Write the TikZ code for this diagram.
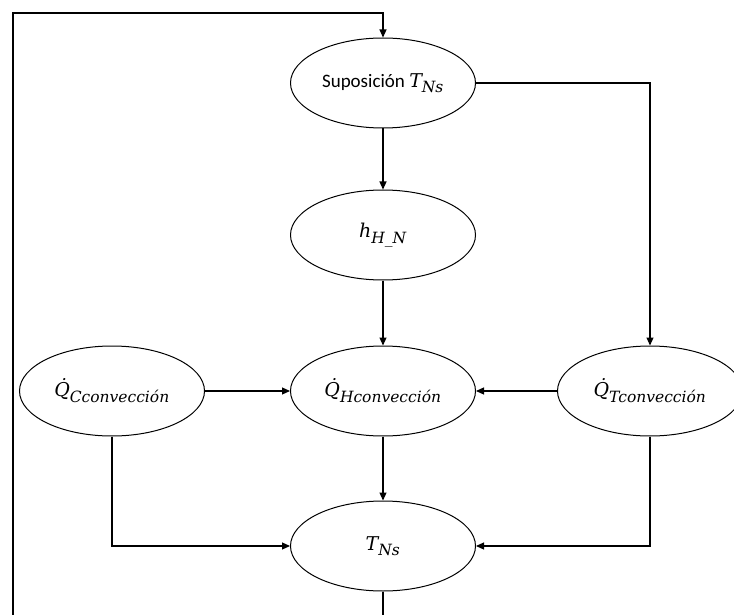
\documentclass[tikz,border=0pt]{standalone}
\usepackage{amsmath}
\usepackage{fontspec}
\setmainfont{Carlito}
\newfontfamily\mathserif{DejaVu Serif}
\usetikzlibrary{shapes.geometric,arrows.meta}

% larger subscripts for the variable names
\DeclareMathSizes{19}{19}{15.5}{12}

% italic serif letters for the variable names
\newcommand\mv[1]{\text{\mathserif\itshape #1}}
\newcommand\qdot{\text{\mathserif\itshape\.{Q}}}

\tikzset{
  blob/.style={draw, ellipse, line width=1pt, minimum width=185pt,
    minimum height=90pt, inner sep=0pt, font=\fontsize{19}{23}\selectfont},
  link/.style={line width=1.1pt, -{Triangle[length=8pt,width=7pt]}},
}

\begin{document}
\begin{tikzpicture}[x=1pt, y=-1pt]
  \useasboundingbox (0,0) rectangle (734,615);
  \clip (0,0) rectangle (734,615);

  \node[blob] (sup) at (383,83) {Suposición $\mv{T}_{\mv{Ns}}$};
  \node[blob] (hhn) at (383,235) {$\mv{h}_{\mv{H\_N}}$};
  \node[blob] (qh)  at (383,391) {$\qdot_{\mv{Hconvección}}$};
  \node[blob] (qc)  at (112,391) {$\qdot_{\mv{Cconvección}}$};
  \node[blob] (qt)  at (650,391) {$\qdot_{\mv{Tconvección}}$};
  \node[blob] (tns) at (383,546) {$\mv{T}_{\mv{Ns}}$};

  % feedback loop corners
  \coordinate (lowleft) at (13,660);
  \coordinate (upleft)  at (13,13);

  \draw[link] (sup.east) -| (qt.north);
  \draw[link] (sup.south) -- (hhn.north);
  \draw[link] (hhn.south) -- (qh.north);
  \draw[link] (qc.east) -- (qh.west);
  \draw[link] (qt.west) -- (qh.east);
  \draw[link] (qh.south) -- (tns.north);
  \draw[link] (qc.south) |- (tns.west);
  \draw[link] (qt.south) |- (tns.east);
  \draw[link] (tns.south) |- (lowleft) -- (upleft) -| (sup.north);
\end{tikzpicture}
\end{document}
